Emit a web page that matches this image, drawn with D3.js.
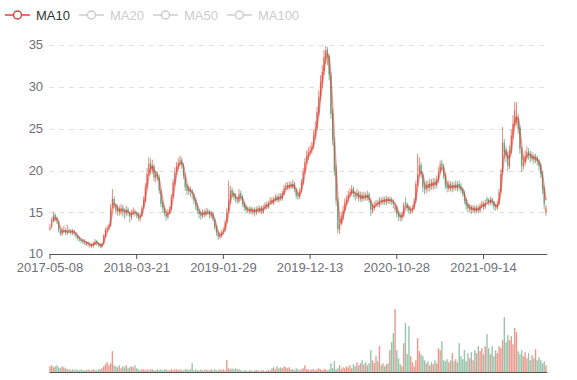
<!DOCTYPE html>
<html>
<head>
<meta charset="utf-8">
<script src="https://cdn.jsdelivr.net/npm/d3@7"></script>
<style>
  body { margin: 0; background: #fff; }
  svg { display: block; font-family: "Liberation Sans", Arial, sans-serif; }
</style>
</head>
<body>
<div id="chart"></div>
<script>
// one candle = roughly 4 trading days
var tickLabels = ["2017-05-08", "2018-03-21", "2019-01-29", "2019-12-13", "2020-10-28", "2021-09-14"];
var tickStep = 50;

var legendNames = ["MA10", "MA20", "MA50", "MA100"];
var legendOn = ["MA10"];

var opens = [
  13.0,13.3,14.0,14.7,14.3,13.9,12.8,12.4,12.7,12.9, 12.5,12.9,12.8,12.5,12.8,12.4,12.2,11.9,11.7,11.6,
  11.6,11.2,11.4,11.0,11.2,11.0,11.2,11.6,11.3,11.2, 10.9,11.3,12.1,13.0,13.2,13.4,15.8,16.6,15.8,15.1,
  15.5,15.0,15.6,15.3,14.8,15.4,14.9,14.4,15.0,15.1, 14.8,14.8,14.2,14.6,15.6,16.4,18.1,19.8,20.9,20.0,
  20.5,19.1,19.6,19.2,17.5,16.1,15.5,14.8,14.4,15.1, 15.4,16.9,18.5,19.9,20.4,21.0,21.3,20.6,19.3,18.1,
  17.5,17.9,17.5,17.1,16.5,15.9,15.1,14.9,14.5,15.1, 14.7,15.2,15.1,14.6,14.9,14.1,13.3,12.5,12.0,12.2,
  12.7,12.9,13.9,15.1,16.3,17.7,17.3,17.0,16.5,16.3, 17.3,16.9,16.1,15.7,15.4,15.1,15.5,15.0,15.4,14.9,
  15.5,15.1,15.6,15.0,15.5,16.0,15.6,16.2,16.5,16.1, 16.5,16.9,16.4,17.0,16.6,17.2,18.0,18.3,17.9,18.4,
  18.0,18.5,17.7,17.1,16.8,17.6,18.5,19.9,21.1,21.7, 22.3,22.5,22.9,24.1,25.1,26.9,28.9,30.5,31.9,33.5,
  34.5,33.7,31.4,26.9,23.5,20.1,16.3,12.9,13.7,14.4, 15.3,16.1,16.6,17.2,17.3,17.9,17.1,17.0,17.4,16.6,
  17.1,16.7,17.1,16.7,17.2,16.4,15.2,15.5,16.0,16.2, 15.9,16.5,16.2,16.6,16.2,16.7,16.3,16.6,16.4,15.4,
  15.7,14.9,14.6,14.3,14.6,16.2,16.0,15.6,15.1,15.2, 15.6,16.4,18.5,19.8,20.7,19.5,18.1,17.7,18.4,17.9,
  18.6,18.1,18.7,18.2,18.8,20.0,20.9,20.6,19.5,18.3, 17.8,18.4,17.8,18.3,17.9,18.4,18.4,18.2,17.8,17.4,
  16.5,15.9,15.4,15.7,15.2,15.6,15.1,15.6,15.2,15.7, 16.1,15.6,16.6,16.5,16.1,16.6,16.3,15.8,15.5,16.1,
  17.5,19.8,23.3,22.3,21.9,20.5,22.3,24.3,25.5,25.8, 26.3,25.1,22.5,20.5,20.9,21.7,22.3,22.0,21.4,21.8,
  21.2,21.6,21.2,20.7,19.7,17.9,15.0
];
var closes = [
  13.2,14.1,14.6,14.2,14.0,12.9,12.5,12.8,12.9,12.6, 12.7,12.8,12.6,12.8,12.5,12.2,11.9,11.8,11.6,11.5,
  11.4,11.3,11.2,11.1,11.0,11.3,11.5,11.3,11.1,10.9, 11.2,12.2,12.9,13.1,13.3,15.6,16.6,15.9,15.2,15.4,
  15.0,15.5,15.2,14.9,15.3,15.0,14.5,14.9,15.2,14.9, 14.7,14.3,14.6,15.5,16.5,18.0,19.6,20.8,20.2,20.6,
  19.2,19.5,19.3,17.6,16.0,15.6,14.9,14.5,15.0,15.3, 16.8,18.6,19.8,20.5,20.9,21.2,20.7,19.4,18.0,17.6,
  17.8,17.4,17.2,16.4,15.8,15.2,14.8,14.6,15.0,14.8, 15.1,15.0,14.7,14.9,14.2,13.2,12.6,12.1,12.3,12.6,
  12.8,13.8,15.0,16.4,17.6,17.2,16.9,16.6,16.4,17.2, 16.8,16.0,15.6,15.3,15.2,15.4,15.1,15.3,15.0,15.4,
  15.2,15.5,15.1,15.6,15.9,15.7,16.1,16.4,16.2,16.6, 16.8,16.5,16.9,16.7,17.3,17.9,18.2,18.0,18.3,18.1,
  18.4,17.8,17.0,16.9,17.5,18.6,19.8,21.0,21.8,22.2, 22.4,22.8,24.2,25.0,27.0,28.8,30.6,31.8,33.6,34.4,
  33.8,31.5,26.8,23.6,20.0,16.4,13.0,13.6,14.5,15.2, 16.2,16.5,17.1,17.4,17.8,17.2,16.9,17.3,16.7,17.0,
  16.6,17.0,16.8,17.1,16.5,15.3,15.6,15.9,16.1,16.0, 16.4,16.3,16.5,16.3,16.6,16.4,16.5,16.3,16.0,15.6,
  14.8,14.5,14.4,14.7,15.9,16.0,15.5,15.2,15.3,15.5, 16.3,18.4,19.5,20.6,19.6,18.0,17.8,18.3,18.0,18.5,
  18.2,18.6,18.3,18.9,19.8,20.7,20.5,19.4,18.2,17.9, 18.3,17.9,18.2,18.0,18.3,17.9,18.1,17.7,17.3,16.4,
  15.8,15.5,15.6,15.3,15.5,15.2,15.5,15.3,15.8,16.0, 15.7,16.1,16.4,16.2,16.5,16.2,15.7,15.6,16.0,17.4,
  19.6,23.4,22.2,21.8,20.6,22.4,24.2,25.6,27.2,26.4, 25.0,22.6,20.6,21.0,21.8,22.2,21.9,21.5,21.7,21.3,
  21.5,21.1,20.6,19.6,17.8,16.0,15.5
];
var highs = [
  13.6,14.4,15.1,14.9,14.5,14.0,13.0,13.1,13.4,13.1, 13.5,13.1,13.0,13.0,12.9,12.6,12.3,12.1,11.9,11.8,
  11.8,11.6,11.5,11.4,11.3,11.5,11.8,11.7,11.4,11.3, 11.4,12.4,13.2,13.4,13.6,16.0,17.8,16.9,16.0,15.9,
  15.8,16.0,15.9,15.5,15.8,15.6,15.1,15.3,15.6,15.4, 15.1,15.0,14.9,15.8,16.9,18.5,20.3,21.6,21.4,21.3,
  20.8,20.0,19.9,19.5,17.7,16.4,15.8,15.2,15.4,15.7, 17.2,19.0,20.4,21.0,21.5,21.8,21.6,20.9,19.6,18.4,
  18.2,18.1,17.8,17.3,16.7,16.1,15.4,15.2,15.4,15.3, 15.5,15.5,15.3,15.2,15.1,14.3,13.5,12.7,12.6,12.9,
  13.2,14.1,15.5,18.8,18.2,18.0,17.6,17.3,16.9,17.8, 17.6,17.1,16.3,15.9,15.7,15.7,15.7,15.6,15.6,15.7,
  15.8,15.8,15.8,15.9,16.2,16.3,16.4,16.8,16.8,16.9, 17.2,17.1,17.3,17.3,17.6,18.3,18.6,18.6,18.7,18.7,
  18.9,18.7,17.9,17.4,17.9,19.0,20.3,21.5,22.4,22.8, 23.0,23.4,24.8,25.9,27.6,29.6,31.4,32.6,34.4,34.9,
  34.8,34.0,31.8,27.4,24.0,20.6,16.6,14.2,15.0,15.8, 16.7,17.0,17.6,17.9,18.3,18.1,17.5,17.8,17.6,17.5,
  17.4,17.5,17.4,17.6,17.4,16.6,16.0,16.3,16.5,16.5, 16.8,16.8,16.9,16.9,17.0,16.9,16.9,16.8,16.6,16.1,
  15.9,15.1,14.9,15.1,16.2,16.8,16.2,15.9,15.7,15.9, 16.7,18.8,22.0,21.6,21.0,19.8,18.6,18.8,18.8,19.0,
  19.0,19.1,19.1,19.4,20.4,21.2,21.3,20.8,19.7,18.6, 18.8,18.7,18.7,18.6,18.8,18.7,18.8,18.5,18.0,17.6,
  16.7,16.1,16.0,15.9,15.9,15.8,15.9,15.8,16.1,16.4, 16.3,16.5,16.9,16.7,16.9,16.8,16.4,16.0,16.4,17.8,
  20.2,25.2,23.8,22.9,22.2,23.0,24.9,26.6,28.2,28.2, 26.8,25.4,22.8,21.6,22.4,22.9,22.7,22.4,22.2,22.0,
  22.0,21.8,21.4,20.9,19.9,18.1,15.9
];
var lows = [
  12.8,13.1,13.8,13.9,13.6,12.6,12.2,12.2,12.5,12.3, 12.3,12.5,12.3,12.3,12.2,11.9,11.6,11.5,11.3,11.2,
  11.1,11.0,10.9,10.8,10.7,10.8,11.1,11.0,10.9,10.7, 10.7,11.1,12.0,12.7,12.9,13.3,15.5,15.5,14.8,14.6,
  14.6,14.7,14.5,14.2,14.5,14.6,13.8,14.1,14.7,14.5, 14.3,14.0,13.9,14.4,15.4,16.2,17.8,19.4,19.5,19.6,
  18.7,18.6,18.8,17.2,15.6,15.0,14.5,14.0,14.2,14.8, 15.2,16.7,18.2,19.5,20.1,20.6,20.2,19.0,17.6,17.1,
  17.1,16.9,16.6,16.0,15.3,14.8,14.3,14.1,14.3,14.4, 14.5,14.7,14.3,14.3,13.9,12.9,12.2,11.7,11.8,12.0,
  12.4,12.7,13.7,14.9,16.0,16.8,16.5,16.2,16.0,16.1, 16.4,15.7,15.2,14.9,14.9,14.8,14.8,14.7,14.5,14.7,
  14.9,14.9,14.8,14.8,15.3,15.4,15.4,15.9,15.9,15.9, 16.3,16.2,16.2,16.4,16.4,17.0,17.7,17.7,17.7,17.8,
  17.8,17.4,16.6,16.5,16.6,17.4,18.3,19.6,20.8,21.3, 21.8,22.0,22.6,23.8,24.8,26.5,28.4,30.0,31.4,32.8,
  32.6,30.8,26.2,23.0,19.4,15.8,12.5,12.4,13.4,14.1, 15.0,15.8,16.2,16.8,17.0,16.8,16.4,16.6,16.3,16.3,
  16.2,16.4,16.4,16.4,16.1,14.6,14.9,15.2,15.7,15.6, 15.6,15.9,15.9,15.9,15.9,16.0,16.0,15.9,15.5,15.0,
  14.4,14.0,13.9,14.0,14.4,15.6,15.1,14.8,14.8,14.9, 15.3,16.1,18.2,19.4,19.1,17.4,17.2,17.3,17.5,17.5,
  17.7,17.7,17.8,17.9,18.5,19.7,20.0,19.0,17.8,17.4, 17.5,17.5,17.4,17.6,17.6,17.5,17.6,17.3,16.9,16.0,
  15.3,15.0,15.0,14.8,15.0,14.8,14.9,14.9,15.0,15.5, 15.3,15.4,16.0,15.8,15.9,15.8,15.3,15.2,15.3,15.9,
  17.3,19.5,21.5,21.0,19.9,20.2,22.0,23.8,25.2,25.4, 24.4,22.0,19.8,20.1,20.6,21.4,21.3,21.0,21.1,20.8,
  20.9,20.6,20.0,19.1,17.2,15.4,14.6
];
var volumes = [
  6,7,5,6,7,5,4,6,5,4, 3,3,2,3,2,3,2,2,3,2, 2,2,3,2,2,3,2,2,3,3, 4,6,8,10,7,9,21,7,6,5,
  7,4,6,5,7,4,5,6,5,7, 4,3,2,3,3,2,3,2,3,3, 2,2,3,2,3,2,3,3,2,2, 3,2,3,3,2,3,2,2,3,3,
  2,3,9,2,3,2,2,3,2,2, 3,2,2,3,2,3,2,2,3,2, 3,2,12,4,3,4,3,4,3,3, 2,1,2,2,1,2,2,1,2,2,
  2,1,2,2,1,2,2,2,4,5, 3,6,4,5,4,6,5,4,5,3, 3,2,4,3,2,3,4,7,3,3, 2,3,3,2,3,4,3,2,3,3,
  2,3,9,4,11,3,4,7,3,5, 4,6,5,7,4,8,6,10,7,9, 12,8,10,7,9,22,12,9,16,11, 26,7,9,6,8,9,22,30,39,63,
  22,14,8,6,29,49,18,46,16,10, 6,12,34,21,18,16,12,9,11,7, 10,8,12,9,24,22,31,12,11,13, 10,12,19,11,13,10,29,16,13,22,
  11,19,14,20,12,22,19,26,21,24, 18,26,38,24,18,26,16,22,19,26, 24,32,55,30,37,32,36,28,44,40, 21,18,22,16,20,14,19,12,17,14,
  23,12,15,12,9,11,7
];

var maWindow = 3; // about 10 trading days at ~4 days per candle

var upColor = "#e0513f", downColor = "#4f9c72", maColor = "#d9463b";
var textColor = "#6E7079", axisColor = "#555", gridColor = "#e0e0e0";

var n = closes.length;
var idx = d3.range(n);

var svg = d3.select("#chart")
    .append("svg")
    .attr("width", 577)
    .attr("height", 380);

// scales
var x = d3.scaleBand()
    .domain(idx)
    .range([49.1, 546.8])
    .padding(0);
var bw = x.bandwidth();

var y = d3.scaleLinear()
    .domain([10, 35])
    .range([254.2, 45.2]);

var yVol = d3.scaleLinear()
    .domain([0, d3.max(volumes)])
    .range([372.3, 309]);

// dashed grid lines
svg.append("g")
    .selectAll("line")
    .data([15, 20, 25, 30, 35])
    .enter()
    .append("line")
    .attr("x1", 49)
    .attr("x2", 547)
    .attr("y1", function (d) { return Math.round(y(d)) + 0.5; })
    .attr("y2", function (d) { return Math.round(y(d)) + 0.5; })
    .attr("stroke", gridColor)
    .attr("stroke-dasharray", "5,5");

// y axis labels only
var yAxis = svg.append("g")
    .attr("transform", "translate(49.1,0)")
    .call(d3.axisLeft(y).tickValues([10, 15, 20, 25, 30, 35]).tickSize(0).tickPadding(6));
yAxis.select(".domain").remove();
yAxis.selectAll("text")
    .attr("dy", "0.28em")
    .style("font-size", "13px")
    .style("font-family", "Liberation Sans, Arial, sans-serif")
    .attr("fill", textColor);

// candles
var candles = svg.append("g");
candles.selectAll("line")
    .data(idx)
    .enter()
    .append("line")
    .attr("x1", function (i) { return x(i) + bw / 2; })
    .attr("x2", function (i) { return x(i) + bw / 2; })
    .attr("y1", function (i) { return y(highs[i]); })
    .attr("y2", function (i) { return y(lows[i]); })
    .attr("stroke", function (i) { return closes[i] >= opens[i] ? upColor : downColor; })
    .attr("stroke-width", 0.8)
    .attr("opacity", 0.85);
candles.selectAll("rect")
    .data(idx)
    .enter()
    .append("rect")
    .attr("x", function (i) { return x(i) + bw * 0.15; })
    .attr("width", bw * 0.7)
    .attr("y", function (i) { return y(Math.max(opens[i], closes[i])); })
    .attr("height", function (i) { return Math.max(1, Math.abs(y(opens[i]) - y(closes[i]))); })
    .attr("fill", function (i) { return closes[i] >= opens[i] ? upColor : downColor; })
    .attr("opacity", function (i) { return closes[i] >= opens[i] ? 0.75 : 0.85; });

// moving average of the closes
var ma = idx.map(function (i) {
    if (i < maWindow - 1) return null;
    return d3.mean(closes.slice(i - maWindow + 1, i + 1));
});
var line = d3.line()
    .defined(function (d) { return d !== null; })
    .x(function (d, i) { return x(i) + bw / 2; })
    .y(function (d) { return y(d); })
    .curve(d3.curveMonotoneX);
svg.append("path")
    .datum(ma)
    .attr("d", line)
    .attr("fill", "none")
    .attr("stroke", maColor)
    .attr("stroke-width", 2)
    .attr("stroke-opacity", 0.55);

// x axis
var xAxis = svg.append("g")
    .attr("transform", "translate(0,254)")
    .call(d3.axisBottom(x)
        .tickValues(d3.range(0, n, tickStep).slice(0, tickLabels.length))
        .tickFormat(function (d) { return tickLabels[d / tickStep]; })
        .tickSize(5)
        .tickSizeOuter(0)
        .tickPadding(4));
xAxis.select(".domain").attr("stroke", axisColor);
xAxis.selectAll(".tick line").attr("stroke", axisColor);
xAxis.selectAll("text")
    .style("font-size", "13px")
    .style("font-family", "Liberation Sans, Arial, sans-serif")
    .attr("fill", textColor);

// volume bars
svg.append("g")
    .selectAll("rect")
    .data(idx)
    .enter()
    .append("rect")
    .attr("x", function (i) { return x(i) + bw * 0.1; })
    .attr("width", bw * 0.8)
    .attr("y", function (i) { return yVol(volumes[i]); })
    .attr("height", function (i) { return yVol(0) - yVol(volumes[i]); })
    .attr("fill", function (i) { return closes[i] >= opens[i] ? upColor : downColor; })
    .attr("opacity", 0.6);

var volAxis = svg.append("g")
    .attr("transform", "translate(0,372)")
    .call(d3.axisBottom(x).tickValues([]).tickSizeOuter(0));
volAxis.select(".domain").attr("stroke", axisColor);

// legend
var legend = svg.append("g").attr("transform", "translate(0,15)");
var lx = 5;
legendNames.forEach(function (name) {
    var on = legendOn.indexOf(name) >= 0;
    var c = on ? maColor : "#ccc";
    var g = legend.append("g").attr("transform", "translate(" + lx + ",0)");
    g.append("line")
        .attr("x1", 0).attr("x2", 25)
        .attr("stroke", c)
        .attr("stroke-width", 1.5);
    g.append("circle")
        .attr("cx", 12.5)
        .attr("r", 4)
        .attr("fill", "#fff")
        .attr("stroke", c)
        .attr("stroke-width", 1.5);
    var t = g.append("text")
        .attr("x", 31)
        .attr("dy", "0.35em")
        .style("font-size", "13px")
        .attr("fill", on ? "#333" : "#ccc")
        .text(name);
    lx += 31 + t.node().getComputedTextLength() + 9;
});
</script>
</body>
</html>
